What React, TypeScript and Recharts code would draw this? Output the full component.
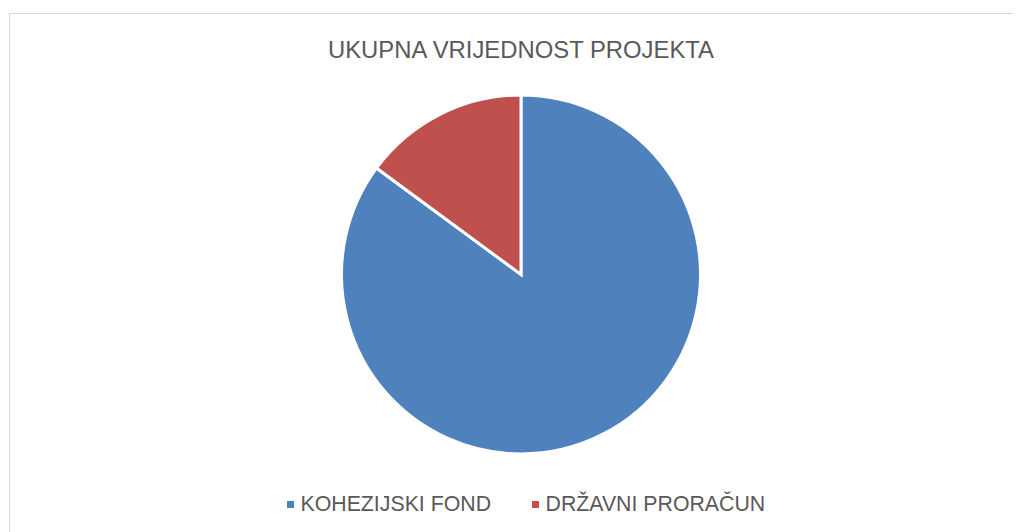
import { PieChart, Pie, Cell, Legend } from "recharts";

const categories = ["KOHEZIJSKI FOND", "DRŽAVNI PRORAČUN"];
const shares = [85.1, 14.9];
const colors = ["#4F81BD", "#C0504D"];

const chartData = categories.map((name, i) => ({ name, value: shares[i] }));

// legend is drawn in the data order (Excel style), not sorted
const LegendContent = () => (
    <div style={{ display: "flex", alignItems: "center", fontFamily: "'Liberation Sans', Arial, sans-serif", fontSize: 21.3, lineHeight: "21.3px", color: "#595959" }}>
        {categories.map((name, index) => (
            <div key={`item-${index}`} style={{ display: "flex", alignItems: "center", marginRight: 41 }}>
                <span style={{ width: 7, height: 7, backgroundColor: colors[index], marginRight: 6.5, display: "inline-block" }}></span>
                <span>{name}</span>
            </div>
        ))}
    </div>
);

export default function App() {
    return (
        <div style={{ position: "relative", width: 1013, height: 524, overflow: "hidden", background: "#fff" }}>
            <div style={{ position: "absolute", left: 1, top: 5, width: 1100, height: 600, border: "1px solid #d9d9d9" }} />
            <div style={{ position: "absolute", left: 0, top: 29.5, width: 1026, textAlign: "center", fontFamily: "'Liberation Sans', Arial, sans-serif", fontSize: 23.85, lineHeight: "23.85px", color: "#595959" }}>
                UKUPNA VRIJEDNOST PROJEKTA
            </div>
            <PieChart width={1013} height={524} margin={{ top: 0, right: 0, bottom: 0, left: 0 }} style={{ position: "absolute", left: 0, top: 0 }}>
                <Pie
                    data={chartData}
                    dataKey="value"
                    nameKey="name"
                    cx={513}
                    cy={266.5}
                    outerRadius={179.5}
                    startAngle={90}
                    endAngle={-270}
                    stroke="#ffffff"
                    strokeWidth={3}
                    isAnimationActive={false}
                >
                    {chartData.map((entry, index) => (
                        <Cell key={`cell-${index}`} fill={colors[index]} />
                    ))}
                </Pie>
                <Legend
                    content={<LegendContent />}
                    wrapperStyle={{ position: "absolute", left: 279, top: 486, width: "auto" }}
                />
            </PieChart>
        </div>
    );
}
